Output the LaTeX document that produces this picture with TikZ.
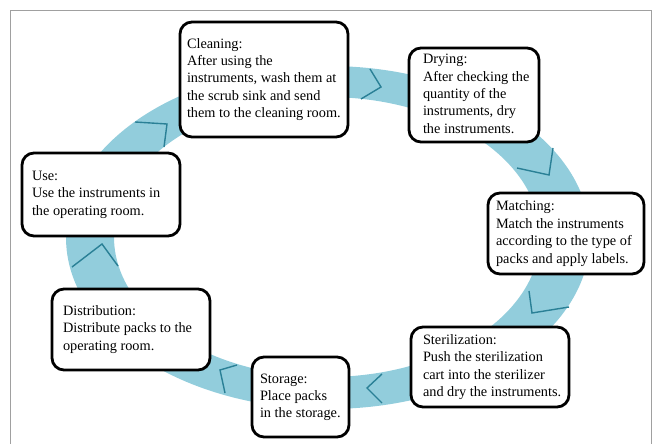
\documentclass[tikz,border=0pt]{standalone}
\usepackage{fontspec}
\setmainfont{Liberation Serif}
\definecolor{ringblue}{RGB}{146,205,220}
\definecolor{chevcol}{RGB}{42,128,150}
\definecolor{framegray}{RGB}{160,160,160}
\newcommand{\boxtext}[2]{\makebox[#1][l]{\begin{tabular}{@{}l@{}}#2\end{tabular}}}
\tikzset{
  stepbox/.style={draw=black, fill=white, line width=2.8pt, rounded corners=12pt,
    inner ysep=0pt, font=\fontsize{14.3}{17.4}\selectfont},
  chev/.style={draw=chevcol, line width=1.4pt},
}
\begin{document}
\begin{tikzpicture}[x=1pt,y=-1pt]
\useasboundingbox (0,0) rectangle (656,444);
\draw[framegray, line width=1pt] (10.5,444) -- (10.5,10.5) -- (651.5,10.5) -- (651.5,444);
% ring
\fill[ringblue, even odd rule] (328,237.5) ellipse [x radius=262, y radius=171.5]
  (327,237) ellipse [x radius=213, y radius=140];
% chevrons
\draw[chev] (135,122) -- (167,124) -- (164,147);
\draw[chev] (370,69) -- (381,87) -- (361,99);
\draw[chev] (553,148) -- (549,175) -- (517,168);
\draw[chev] (529,291) -- (532,313) -- (569,307);
\draw[chev] (382,374) -- (367,388) -- (382,403);
\draw[chev] (237,365) -- (220,370) -- (225,393);
\draw[chev] (72,267) -- (102,244) -- (118,266);
% boxes
\node[stepbox, minimum width=168, minimum height=115, inner xsep=7] (clean) at (264,79.5)
  {\boxtext{154pt}{Cleaning:\\After using the\\instruments, wash them at\\the scrub sink and send\\them to the cleaning room.}};
\node[stepbox, minimum width=130, minimum height=94, inner xsep=14] (dry) at (474,95)
  {\boxtext{102pt}{Drying:\\After checking the\\quantity of the\\instruments, dry\\the instruments.}};
\node[stepbox, minimum width=158, minimum height=83, inner xsep=10] (use) at (101,194.5)
  {\boxtext{138pt}{Use:\\Use the instruments in\\the operating room.}};
\node[stepbox, minimum width=156, minimum height=81, inner xsep=8] (match) at (566,233.5)
  {\boxtext{140pt}{Matching:\\Match the instruments\\according to the type of\\packs and apply labels.}};
\node[stepbox, minimum width=158, minimum height=81, inner xsep=11] (dist) at (131,329.5)
  {\boxtext{136pt}{Distribution:\\Distribute packs to the\\operating room.}};
\node[stepbox, minimum width=97, minimum height=80, inner xsep=8] (stor) at (300.5,397)
  {\boxtext{81pt}{Storage:\\Place packs\\in the storage.}};
\node[stepbox, minimum width=158, minimum height=80, inner xsep=12] (ster) at (490,367)
  {\boxtext{134pt}{Sterilization:\\Push the sterilization\\cart into the sterilizer\\and dry the instruments.}};
\end{tikzpicture}
\end{document}
